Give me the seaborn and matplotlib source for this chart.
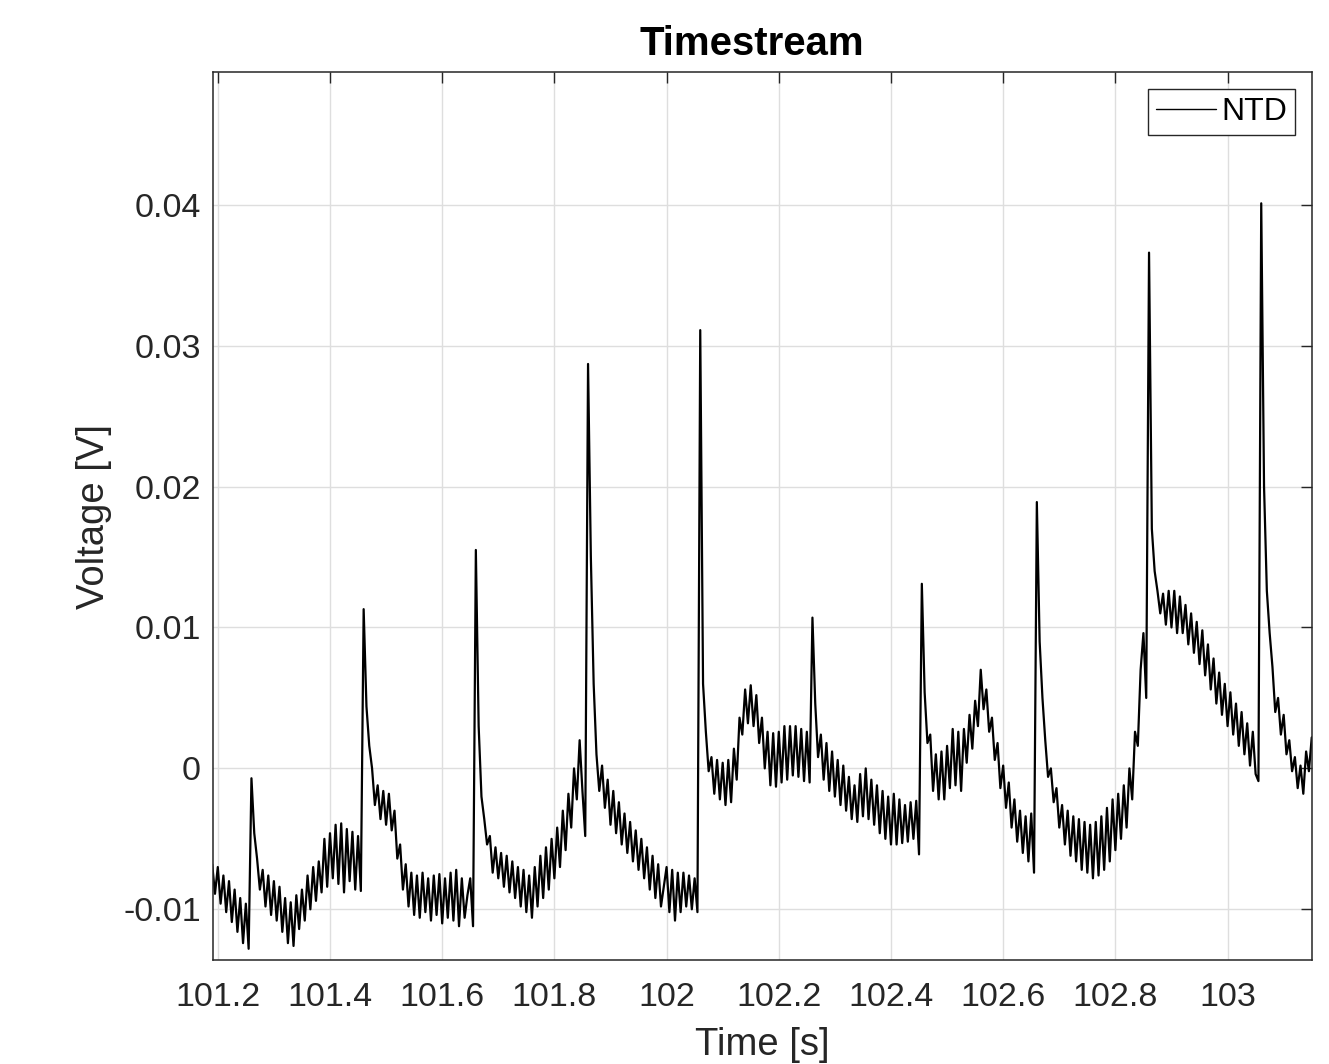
import numpy as np
import pandas as pd
import matplotlib
matplotlib.use("Agg")
import matplotlib.pyplot as plt
import seaborn as sns

# NTD bolometer timestream, sampled every 5 ms starting at 101.19 s (values in mV)
t_start = 101.19
dt = 0.005
voltage_mV = [
    -6.8, -8.9, -7.0, -9.6, -7.6, -10.2, -8.0, -10.9, -8.6, -11.6,
    -9.2, -12.4, -9.6, -12.8, -0.7, -4.6, -6.4, -8.6, -7.2, -9.8,
    -7.6, -10.4, -8.0, -10.8, -8.4, -11.6, -9.2, -12.4, -9.5, -12.6,
    -9.0, -11.4, -8.6, -10.8, -7.6, -10.0, -7.0, -9.4, -6.6, -8.8,
    -5.0, -8.4, -4.6, -7.8, -4.0, -8.2, -3.9, -8.8, -4.3, -8.0,
    -4.5, -8.6, -4.8, -8.7, 11.3, 4.4, 1.6, 0.0, -2.6, -1.2,
    -3.6, -1.6, -4.0, -1.8, -4.4, -3.0, -6.4, -5.4, -8.6, -6.8,
    -9.8, -7.4, -10.4, -7.6, -10.6, -7.4, -10.2, -7.8, -10.8, -7.6,
    -10.4, -7.5, -11.0, -7.8, -10.6, -7.4, -10.8, -7.2, -11.2, -7.8,
    -10.6, -9.0, -7.8, -11.2, 15.5, 3.0, -2.0, -3.6, -5.4, -4.8,
    -7.4, -5.6, -7.8, -6.0, -8.4, -6.2, -8.8, -6.6, -9.2, -7.0,
    -9.8, -7.2, -10.2, -7.6, -10.6, -7.0, -9.8, -6.2, -9.2, -5.6,
    -8.6, -5.0, -7.8, -4.2, -7.0, -3.0, -5.8, -1.8, -4.2, 0.0,
    -2.2, 2.0, -1.6, -4.8, 28.7, 15.0, 6.0, 1.0, -1.6, 0.2,
    -2.8, -0.8, -4.0, -1.6, -4.6, -2.4, -5.4, -3.2, -6.0, -3.8,
    -6.6, -4.4, -7.2, -5.0, -7.8, -5.6, -8.6, -6.2, -9.2, -6.8,
    -9.8, -8.4, -7.0, -10.2, -7.2, -10.8, -7.4, -10.2, -7.4, -9.8,
    -7.6, -10.0, -7.8, -10.2, 31.1, 6.0, 2.6, -0.2, 0.8, -1.8,
    0.6, -2.2, 0.4, -2.6, 0.6, -2.4, 1.4, -0.8, 3.6, 2.4,
    5.6, 3.2, 5.9, 3.0, 5.2, 1.8, 3.6, 0.0, 2.6, -1.2,
    2.5, -1.3, 2.6, -1.0, 3.0, -0.8, 3.0, -0.5, 3.0, -0.6,
    2.8, -0.9, 2.6, -1.0, 10.7, 4.6, 0.8, 2.4, -0.8, 1.8,
    -1.6, 1.2, -2.0, 0.6, -2.6, 0.2, -3.0, -0.6, -3.6, -1.2,
    -3.8, -0.4, -3.4, 0.0, -3.6, -0.8, -4.0, -1.2, -4.6, -1.6,
    -5.0, -2.0, -5.4, -1.8, -5.4, -2.2, -5.3, -2.6, -5.2, -2.4,
    -5.0, -2.3, -6.1, 13.1, 5.4, 1.8, 2.4, -1.6, 1.0, -2.2,
    1.2, -2.2, 1.6, -1.4, 2.8, -1.2, 2.6, -1.6, 2.8, 0.4,
    3.8, 1.4, 4.8, 3.0, 7.0, 4.2, 5.6, 2.6, 3.6, 0.6,
    1.8, -1.4, 0.2, -2.8, -1.0, -4.2, -2.2, -5.2, -3.0, -6.0,
    -3.4, -6.6, -3.2, -7.4, 18.9, 9.0, 5.0, 2.0, -0.6, 0.0,
    -2.4, -1.4, -4.2, -2.6, -5.4, -3.0, -6.2, -3.4, -6.6, -3.6,
    -7.2, -3.8, -7.4, -4.0, -7.8, -3.8, -7.6, -3.4, -7.2, -2.8,
    -6.6, -2.2, -5.8, -1.8, -5.0, -1.2, -4.2, 0.0, -2.2, 2.6,
    1.6, 7.0, 9.6, 5.0, 36.6, 17.0, 14.0, 12.6, 11.0, 12.4,
    10.2, 12.6, 10.0, 12.6, 9.6, 12.2, 9.6, 11.6, 8.8, 11.0,
    8.2, 10.4, 7.4, 9.8, 6.6, 8.8, 5.6, 7.8, 4.6, 6.8,
    3.8, 6.0, 3.0, 5.4, 2.4, 4.6, 1.6, 4.0, 1.0, 3.2,
    0.2, 2.6, -0.4, -0.9, 40.1, 20.0, 12.6, 9.6, 7.2, 4.0,
    5.0, 2.4, 3.8, 1.0, 2.0, -0.2, 0.8, -1.4, 0.2, -1.8,
    1.2, -0.2, 2.2,
]

x_ticks = [101.2, 101.4, 101.6, 101.8, 102.0, 102.2, 102.4, 102.6, 102.8, 103.0]
x_tick_labels = ["101.2", "101.4", "101.6", "101.8", "102",
                 "102.2", "102.4", "102.6", "102.8", "103"]
y_ticks = [-0.01, 0.0, 0.01, 0.02, 0.03, 0.04]
y_tick_labels = ["-0.01", "0", "0.01", "0.02", "0.03", "0.04"]
x_limits = (101.192, 103.15)
y_limits = (-0.0136, 0.0494)

time_s = t_start + dt * np.arange(len(voltage_mV))
df = pd.DataFrame({"Time [s]": time_s,
                   "Voltage [V]": np.asarray(voltage_mV) / 1000.0})

sns.set_style("white")
plt.rcParams["font.family"] = ["Liberation Sans", "DejaVu Sans"]
plt.rcParams["axes.unicode_minus"] = False

axis_grey = "#262626"

fig = plt.figure(figsize=(13.29, 10.64), dpi=100)
ax = fig.add_axes([0.1605, 0.0977, 0.8265, 0.8344])

sns.lineplot(data=df, x="Time [s]", y="Voltage [V]", ax=ax,
             color="black", linewidth=1.6, label="NTD",
             estimator=None, sort=False)

ax.set_xlim(*x_limits)
ax.set_ylim(*y_limits)
ax.set_xticks(x_ticks)
ax.set_xticklabels(x_tick_labels)
ax.set_yticks(y_ticks)
ax.set_yticklabels(y_tick_labels)

ax.grid(True, color="#dedede", linewidth=1.0)
ax.set_axisbelow(True)
for side in ["left", "right", "top", "bottom"]:
    ax.spines[side].set_visible(True)
    ax.spines[side].set_color(axis_grey)
    ax.spines[side].set_linewidth(1.1)

ax.tick_params(axis="both", which="major", direction="in", length=8, width=1.0,
               top=True, right=True, color=axis_grey, labelcolor=axis_grey,
               labelsize=24.5)
ax.tick_params(axis="x", pad=16)
ax.tick_params(axis="y", pad=9)

ax.set_title("Timestream", fontsize=28.9, fontweight="bold", color="black",
             pad=12.5, x=0.49)
ax.set_xlabel("Time [s]", fontsize=27.5, color=axis_grey, labelpad=10)
ax.set_ylabel("Voltage [V]", fontsize=27.5, color=axis_grey, labelpad=8)

leg = ax.legend(loc="upper right", fontsize=23, frameon=True, fancybox=False,
                shadow=False, framealpha=1, edgecolor=axis_grey,
                borderpad=0.25, handlelength=1.9, handletextpad=0.15,
                borderaxespad=0.52)
leg.get_frame().set_linewidth(1.0)
leg.get_lines()[0].set_linewidth(1.0)
for txt in leg.get_texts():
    txt.set_color("black")

fig.savefig("out.png", dpi=100, facecolor="white")
